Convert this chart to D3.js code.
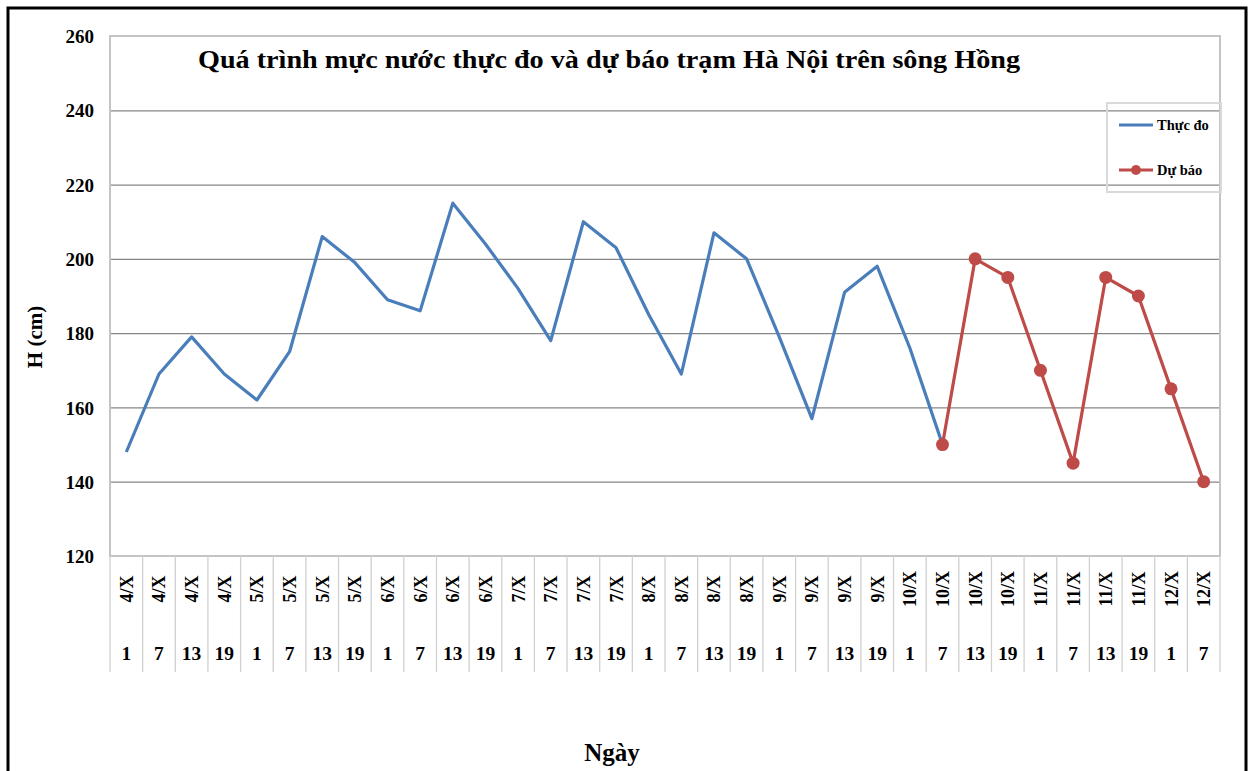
<!DOCTYPE html>
<html>
<head>
<meta charset="utf-8">
<script src="https://cdn.jsdelivr.net/npm/d3@7"></script>
<style>
  body { margin: 0; background: #fff; }
  svg text { font-family: "Liberation Serif", "Times New Roman", serif; font-weight: bold; fill: #000; }
</style>
</head>
<body>
<script>
// categories: day (month X) and hour
let days = ["4/X","4/X","4/X","4/X","5/X","5/X","5/X","5/X","6/X","6/X","6/X","6/X",
            "7/X","7/X","7/X","7/X","8/X","8/X","8/X","8/X","9/X","9/X","9/X","9/X",
            "10/X","10/X","10/X","10/X","11/X","11/X","11/X","11/X","12/X","12/X"];
let hours = [1,7,13,19,1,7,13,19,1,7,13,19,1,7,13,19,1,7,13,19,1,7,13,19,1,7,13,19,1,7,13,19,1,7];

// measured water level (cm)
let observed = [148,169,179,169,162,175,206,199,189,186,215,204,192,178,210,203,
                185,169,207,200,179,157,191,198,176,150];
// forecast, starts at 10/X 7h
let forecastStart = 25;
let forecast = [150,200,195,170,145,195,190,165,140];

let yTicks = [120,140,160,180,200,220,240,260];

let W = 1253, H = 771;
let plot = {left: 110, top: 36, right: 1220, bottom: 556};

let svg = d3.select("body").append("svg")
    .attr("width", W)
    .attr("height", H);

// outer frame
svg.append("rect")
    .attr("x", 8).attr("y", 8)
    .attr("width", 1238).attr("height", 790)
    .attr("fill", "none")
    .attr("stroke", "#000")
    .attr("stroke-width", 3);

let x = d3.scaleBand()
    .domain(d3.range(days.length))
    .range([plot.left, plot.right]);
let y = d3.scaleLinear()
    .domain([120, 260])
    .range([plot.bottom, plot.top]);

let cx = i => x(i) + x.bandwidth() / 2;

// gridlines
svg.append("g")
    .attr("transform", "translate(" + plot.left + ",0)")
    .call(d3.axisLeft(y).tickValues(yTicks.slice(1, -1)).tickSize(-(plot.right - plot.left)).tickFormat(""))
    .call(g => g.select(".domain").remove())
    .selectAll("line")
    .attr("stroke", "#868686")
    .attr("stroke-width", 1.3);

// plot area border
svg.append("rect")
    .attr("x", plot.left).attr("y", plot.top)
    .attr("width", plot.right - plot.left)
    .attr("height", plot.bottom - plot.top)
    .attr("fill", "none")
    .attr("stroke", "#c4c4c4")
    .attr("stroke-width", 2);

// y axis labels
svg.append("g")
    .attr("transform", "translate(" + (plot.left - 16) + ",0)")
    .call(d3.axisLeft(y).tickValues(yTicks).tickSize(0).tickPadding(0))
    .call(g => g.select(".domain").remove())
    .selectAll("text")
    .style("font-size", "19px")
    .attr("dy", "0.35em");

// category separators (table below plot)
let sepIdx = d3.range(days.length + 1);
svg.append("g").selectAll("line")
    .data(sepIdx)
    .enter().append("line")
    .attr("x1", i => i < days.length ? x(i) : plot.right)
    .attr("x2", i => i < days.length ? x(i) : plot.right)
    .attr("y1", plot.bottom)
    .attr("y2", 672)
    .attr("stroke", "#d0d0d0")
    .attr("stroke-width", 1.3);

// day labels (rotated)
svg.append("g").selectAll("text")
    .data(days)
    .enter().append("text")
    .attr("transform", (d, i) => "translate(" + (cx(i) + 6.5) + ",589) rotate(-90)")
    .attr("text-anchor", "middle")
    .style("font-size", "18px")
    .text(d => d);

// hour labels
svg.append("g").selectAll("text")
    .data(hours)
    .enter().append("text")
    .attr("x", (d, i) => cx(i))
    .attr("y", 660)
    .attr("text-anchor", "middle")
    .style("font-size", "19.5px")
    .text(d => d);

// lines
let line = d3.line()
    .x(d => cx(d.i))
    .y(d => y(d.v));

let obsData = observed.map((v, i) => ({i: i, v: v}));
let fcData = forecast.map((v, k) => ({i: forecastStart + k, v: v}));

svg.append("path")
    .datum(obsData)
    .attr("d", line)
    .attr("fill", "none")
    .attr("stroke", "#4a7ebb")
    .attr("stroke-width", 3.2)
    .attr("stroke-linejoin", "round");

svg.append("path")
    .datum(fcData)
    .attr("d", line)
    .attr("fill", "none")
    .attr("stroke", "#be4b48")
    .attr("stroke-width", 3.2)
    .attr("stroke-linejoin", "round");

svg.append("g").selectAll("circle")
    .data(fcData)
    .enter().append("circle")
    .attr("cx", d => cx(d.i))
    .attr("cy", d => y(d.v))
    .attr("r", 6.5)
    .attr("fill", "#be4b48");

// title
svg.append("text")
    .attr("x", 198)
    .attr("y", 68)
    .attr("textLength", 822)
    .attr("lengthAdjust", "spacingAndGlyphs")
    .style("font-size", "26px")
    .text("Quá trình mực nước thực đo và dự báo trạm Hà Nội trên sông Hồng");

// axis titles
svg.append("text")
    .attr("transform", "translate(42,337) rotate(-90)")
    .attr("text-anchor", "middle")
    .style("font-size", "21px")
    .text("H (cm)");

svg.append("text")
    .attr("x", 612)
    .attr("y", 761)
    .attr("text-anchor", "middle")
    .style("font-size", "25px")
    .text("Ngày");

// legend
let legend = svg.append("g");
legend.append("rect")
    .attr("x", 1107).attr("y", 103)
    .attr("width", 114).attr("height", 89)
    .attr("fill", "none")
    .attr("stroke", "#d9d9d9")
    .attr("stroke-width", 2);

let legendItems = [
  {name: "Thực đo", color: "#4a7ebb", marker: false, y: 125},
  {name: "Dự báo", color: "#be4b48", marker: true, y: 170}
];
legendItems.forEach(it => {
  legend.append("line")
    .attr("x1", 1119).attr("x2", 1153)
    .attr("y1", it.y).attr("y2", it.y)
    .attr("stroke", it.color)
    .attr("stroke-width", 3);
  if (it.marker) {
    legend.append("circle")
      .attr("cx", 1136).attr("cy", it.y)
      .attr("r", 5)
      .attr("fill", it.color);
  }
  legend.append("text")
    .attr("x", 1157).attr("y", it.y + 5)
    .style("font-size", "14.5px")
    .text(it.name);
});
</script>
</body>
</html>
